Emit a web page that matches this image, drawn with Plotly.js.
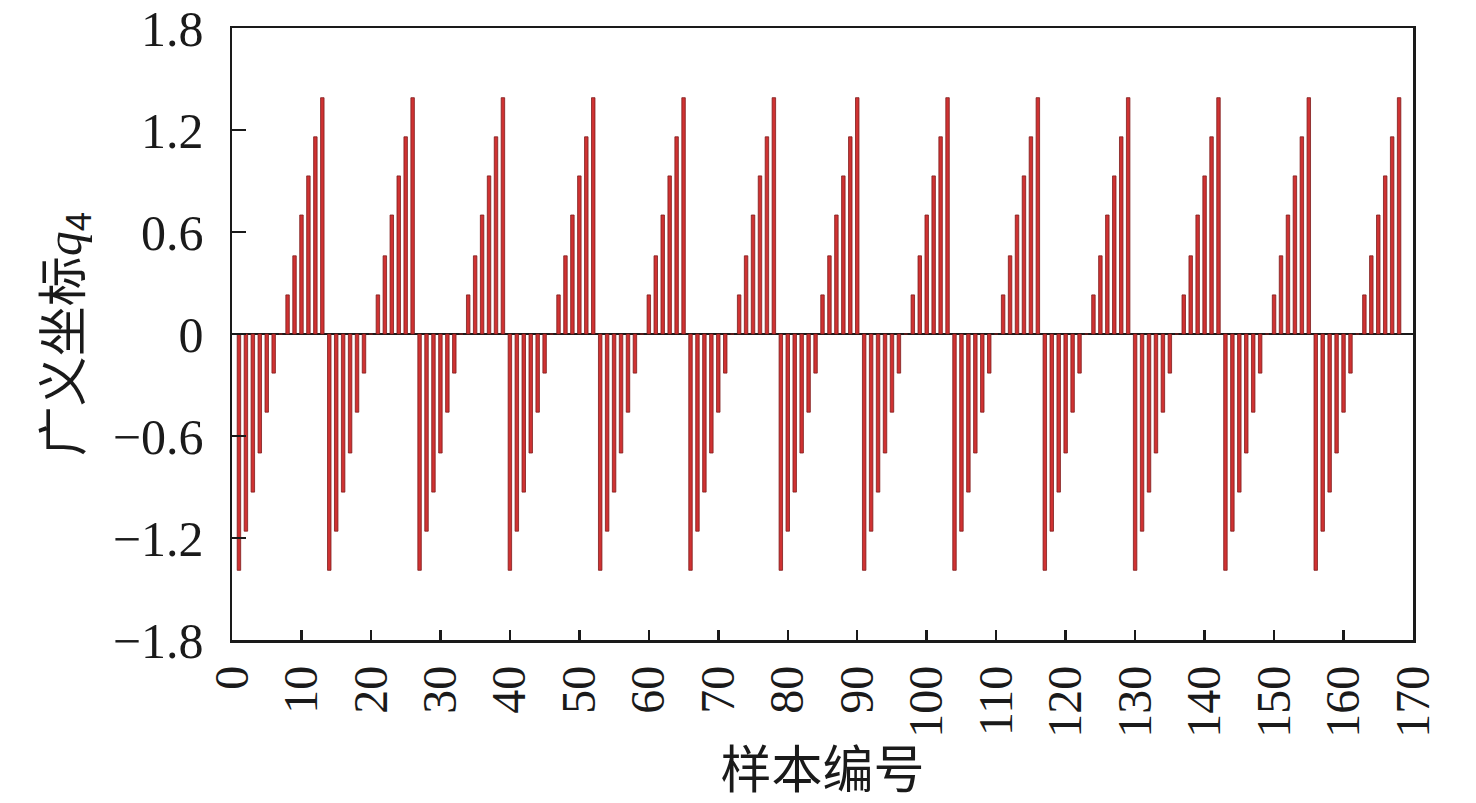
<!DOCTYPE html>
<html>
<head>
<meta charset="utf-8">
<script src="https://cdn.plot.ly/plotly-3.0.1.min.js"></script>
<style>
html,body{margin:0;padding:0;background:#fff;}
#chart{width:1476px;height:803px;}
</style>
</head>
<body>
<div id="chart"></div>
<script>
// 样本编号
const sampleIds = [
  1,2,3,4,5,6,7,8,9,10,11,12,13,
  14,15,16,17,18,19,20,21,22,23,24,25,26,
  27,28,29,30,31,32,33,34,35,36,37,38,39,
  40,41,42,43,44,45,46,47,48,49,50,51,52,
  53,54,55,56,57,58,59,60,61,62,63,64,65,
  66,67,68,69,70,71,72,73,74,75,76,77,78,
  79,80,81,82,83,84,85,86,87,88,89,90,
  91,92,93,94,95,96,97,98,99,100,101,102,103,
  104,105,106,107,108,109,110,111,112,113,114,115,116,
  117,118,119,120,121,122,123,124,125,126,127,128,129,
  130,131,132,133,134,135,136,137,138,139,140,141,142,
  143,144,145,146,147,148,149,150,151,152,153,154,155,
  156,157,158,159,160,161,162,163,164,165,166,167,168
];
// 广义坐标 q4
const q4Values = [
  -1.39,-1.16,-0.93,-0.70,-0.46,-0.23,0,0.23,0.46,0.70,0.93,1.16,1.39,
  -1.39,-1.16,-0.93,-0.70,-0.46,-0.23,0,0.23,0.46,0.70,0.93,1.16,1.39,
  -1.39,-1.16,-0.93,-0.70,-0.46,-0.23,0,0.23,0.46,0.70,0.93,1.16,1.39,
  -1.39,-1.16,-0.93,-0.70,-0.46,-0.23,0,0.23,0.46,0.70,0.93,1.16,1.39,
  -1.39,-1.16,-0.93,-0.70,-0.46,-0.23,0,0.23,0.46,0.70,0.93,1.16,1.39,
  -1.39,-1.16,-0.93,-0.70,-0.46,-0.23,0,0.23,0.46,0.70,0.93,1.16,1.39,
  -1.39,-1.16,-0.93,-0.70,-0.46,-0.23,0.23,0.46,0.70,0.93,1.16,1.39,
  -1.39,-1.16,-0.93,-0.70,-0.46,-0.23,0,0.23,0.46,0.70,0.93,1.16,1.39,
  -1.39,-1.16,-0.93,-0.70,-0.46,-0.23,0,0.23,0.46,0.70,0.93,1.16,1.39,
  -1.39,-1.16,-0.93,-0.70,-0.46,-0.23,0,0.23,0.46,0.70,0.93,1.16,1.39,
  -1.39,-1.16,-0.93,-0.70,-0.46,-0.23,0,0.23,0.46,0.70,0.93,1.16,1.39,
  -1.39,-1.16,-0.93,-0.70,-0.46,-0.23,0,0.23,0.46,0.70,0.93,1.16,1.39,
  -1.39,-1.16,-0.93,-0.70,-0.46,-0.23,0,0.23,0.46,0.70,0.93,1.16,1.39
];
const xTickVals = [0,10,20,30,40,50,60,70,80,90,100,110,120,130,140,150,160,170];
const yTickVals = [-1.8,-1.2,-0.6,0,0.6,1.2,1.8];
const yTickText = ['\u22121.8','\u22121.2','\u22120.6','0','0.6','1.2','1.8'];

const FONT = '"Liberation Serif", "Times New Roman", "Noto Sans CJK SC", serif';
const CJK = '"Noto Sans CJK SC", "Liberation Serif", serif';

const trace = {
  type: 'bar',
  x: sampleIds,
  y: q4Values,
  width: 0.5,
  marker: {color: '#cf3232', line: {color: '#7d1c1c', width: 0.8}},
  hoverinfo: 'x+y'
};

const layout = {
  width: 1476, height: 803,
  margin: {l: 232, r: 63, t: 28, b: 163},
  paper_bgcolor: '#fff', plot_bgcolor: '#fff',
  showlegend: false,
  bargap: 0,
  font: {family: FONT, color: '#1a1a1a', size: 48},
  xaxis: {
    range: [0, 170],
    tickvals: xTickVals,
    ticktext: xTickVals.map(String),
    tickangle: -90,
    ticks: 'inside', ticklen: 10, tickwidth: 2.5, tickcolor: '#1a1a1a',
    showline: true, linecolor: '#1a1a1a', linewidth: 2.5, mirror: true,
    showgrid: false, zeroline: false,
    ticklabelstandoff: 4,
    tickfont: {family: FONT, size: 48, color: '#1a1a1a'},
    title: {text: '样本编号', font: {family: CJK, size: 51, color: '#1a1a1a'}, standoff: 2}
  },
  yaxis: {
    range: [-1.8, 1.8],
    tickvals: yTickVals,
    ticktext: yTickText,
    ticks: 'inside', ticklen: 14, tickwidth: 2.5, tickcolor: '#1a1a1a',
    showline: true, linecolor: '#1a1a1a', linewidth: 2.5, mirror: true,
    showgrid: false,
    zeroline: true, zerolinecolor: '#1a1a1a', zerolinewidth: 2.8,
    layer: 'above traces',
    ticklabelstandoff: 16,
    tickfont: {family: FONT, size: 50, color: '#1a1a1a'},
    title: {text: '广义坐标<i style="font-family:Liberation Serif">q</i><sub>4</sub>', font: {family: CJK, size: 50, color: '#1a1a1a'}, standoff: 16}
  }
};

Plotly.newPlot('chart', [trace], layout, {displayModeBar: false, staticPlot: true});
</script>
</body>
</html>
